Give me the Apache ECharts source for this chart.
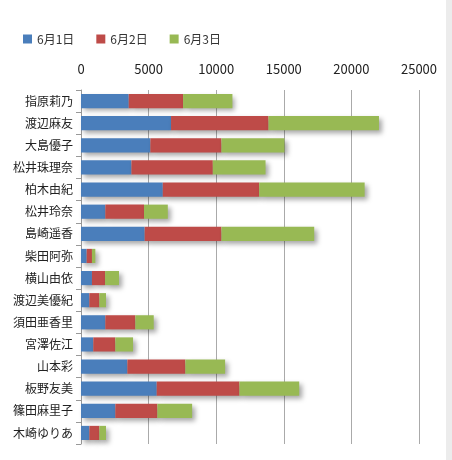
<!DOCTYPE html><html><head><meta charset="utf-8"><script src="https://cdn.jsdelivr.net/npm/echarts@6/dist/echarts.min.js"></script></head>
<body style="margin:0;background:#fff"><div style="position:absolute;right:0;top:0;width:6px;height:460px;background:#ececec"></div><div id="c" style="width:446px;height:460px"></div><script>
const names=["指原莉乃","渡辺麻友","大島優子","松井珠理奈","柏木由紀","松井玲奈","島崎遥香","柴田阿弥","横山由依","渡辺美優紀","須田亜香里","宮澤佐江","山本彩","板野友美","篠田麻里子","木崎ゆりあ"];
const day1=[3530,6660,5130,3730,6050,1800,4710,420,810,620,1800,910,3430,5600,2540,620];
const day2=[4020,7210,5260,6020,7130,2860,5680,390,970,740,2220,1630,4290,6120,3110,740];
const day3=[3650,8170,4660,3900,7800,1760,6860,250,1030,490,1360,1310,2940,4420,2570,490];
const seriesNames=["6月1日","6月2日","6月3日"];
const colors=["#4a7ebb","#be4b48","#98b954"];
const f="'Noto Sans CJK JP',sans-serif";
const ch=echarts.init(document.getElementById('c'));
ch.setOption({animation:false,
legend:{left:18,top:28,itemWidth:9,itemHeight:9,itemGap:22,icon:'rect',textStyle:{fontFamily:f,fontSize:12,color:'#333'}},
grid:{left:81,right:27,top:90,bottom:16},
xAxis:{type:'value',position:'top',min:0,max:25000,interval:5000,axisLine:{show:false},axisTick:{show:false},splitLine:{lineStyle:{color:'#aaa'}},axisLabel:{fontFamily:f,fontSize:13,color:'#222',margin:14,formatter:v=>String(v)}},
yAxis:{type:'category',inverse:true,data:names,axisLine:{lineStyle:{color:'#999'}},axisTick:{show:true,lineStyle:{color:'#999'}},axisLabel:{fontFamily:f,fontSize:12,color:'#222',margin:8}},
series:[day1,day2,day3].map((d,i)=>({name:seriesNames[i],type:'bar',stack:'s',data:d,barWidth:'64%',itemStyle:{color:colors[i],shadowColor:'rgba(0,0,0,0.35)',shadowBlur:5,shadowOffsetX:3,shadowOffsetY:3}}))
});
</script></body></html>
